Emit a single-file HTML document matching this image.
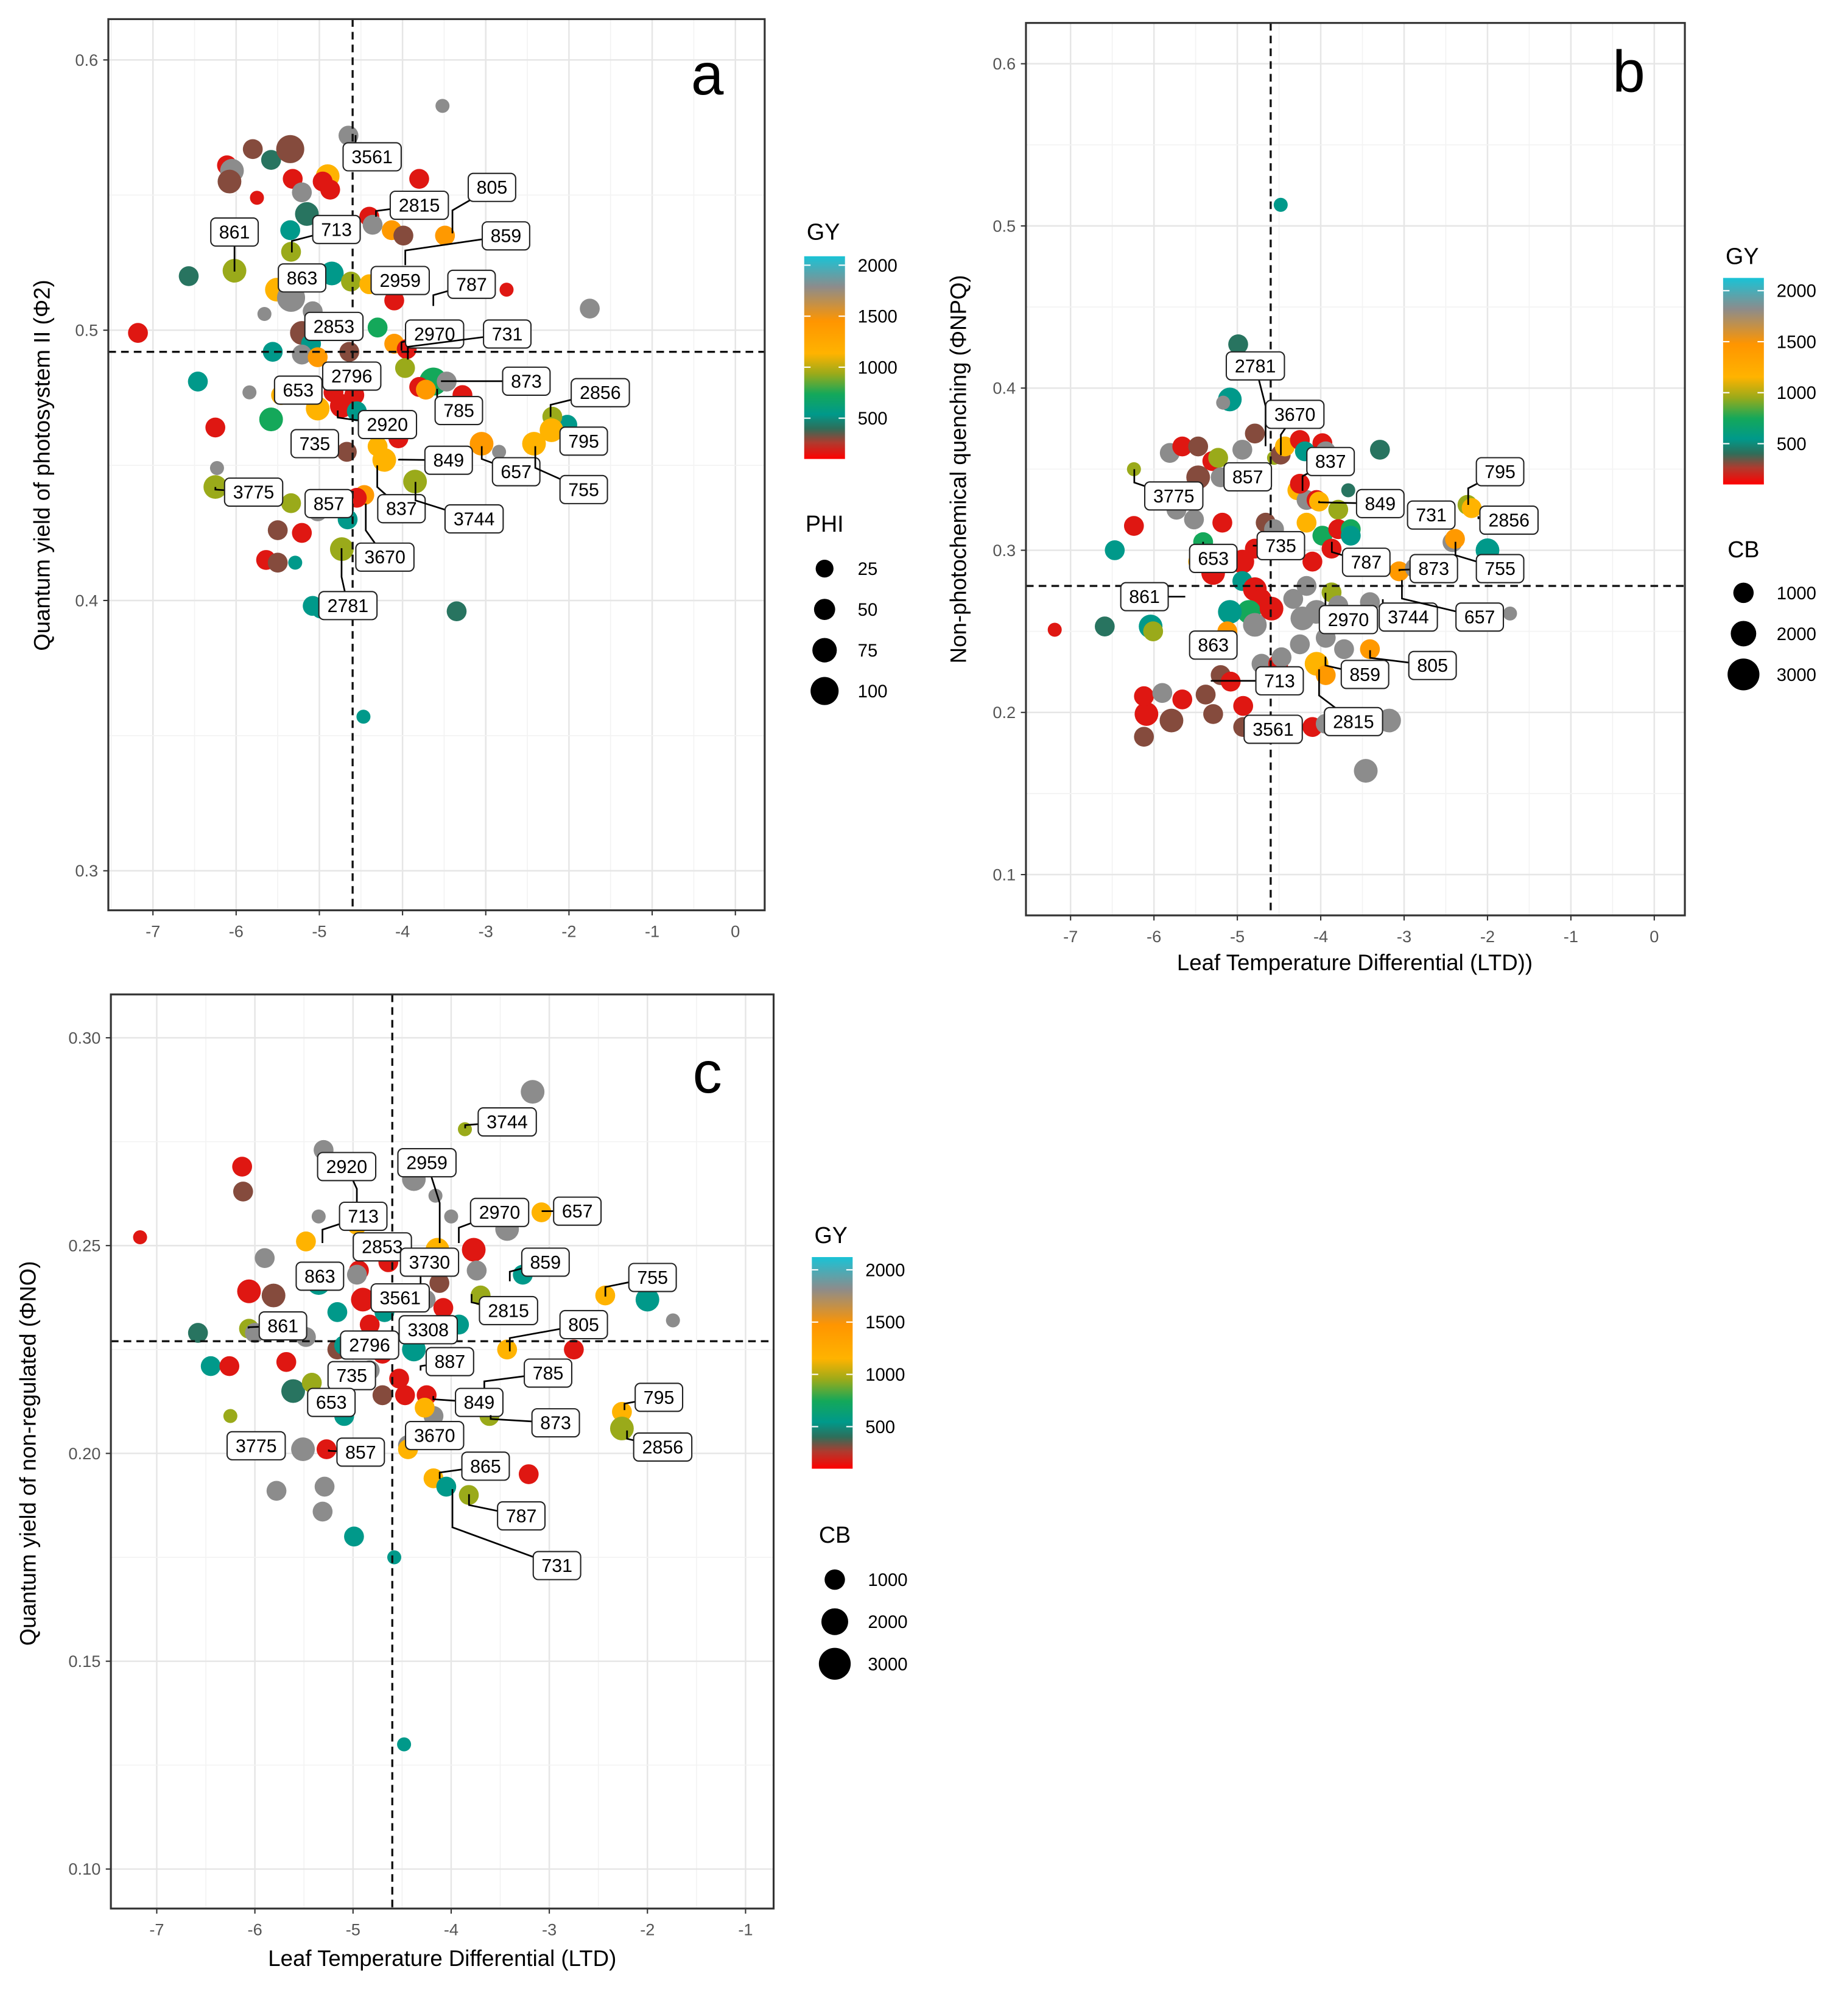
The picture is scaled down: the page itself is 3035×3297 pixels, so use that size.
<!DOCTYPE html>
<html><head><meta charset="utf-8"><style>
html,body{margin:0;padding:0;background:#fff}
svg{display:block}
text{font-family:"Liberation Sans",sans-serif}
</style></head><body>
<svg id="fig" width="3035" height="3297" viewBox="0 0 1450 1575" preserveAspectRatio="none" xmlns="http://www.w3.org/2000/svg">
<defs>
<linearGradient id="gyGrad" x1="0" y1="1" x2="0" y2="0">
<stop offset="0" stop-color="#ff0000"/><stop offset="0.08" stop-color="#b03a2e"/><stop offset="0.15" stop-color="#2e6e5a"/><stop offset="0.22" stop-color="#00998a"/><stop offset="0.32" stop-color="#14a85a"/><stop offset="0.42" stop-color="#9aaa1a"/><stop offset="0.52" stop-color="#ffb300"/><stop offset="0.68" stop-color="#ff9500"/><stop offset="0.85" stop-color="#8c8c8c"/><stop offset="1" stop-color="#19c3d6"/>
</linearGradient>
</defs>
</svg>
<script>
// ---- data (x = LTD, y = response, gy = grain yield, s = size class) ----
const R=100,B=300,D=420,T=550,G=750,O=950,Y=1150,Or=1450,Gr=1750;
const pointsA=[[-7.18,.499,R,2],[-6.57,.520,D,2],[-6.46,.481,T,2],[-6.25,.464,R,2],[-6.25,.442,O,3],[-6.02,.522,O,3],[-6.11,.561,R,2],[-6.05,.559,Gr,3],[-6.08,.555,B,3],[-5.75,.549,R,1],[-5.8,.567,B,2],[-5.58,.563,D,2],[-5.35,.567,B,4],[-5.32,.556,R,2],[-5.21,.551,Gr,2],[-5.15,.543,D,3],[-5.35,.537,T,2],[-5.34,.529,O,2],[-4.9,.557,Y,3],[-4.96,.555,R,2],[-4.87,.552,R,2],[-4.65,.572,Gr,2],[-3.52,.583,Gr,1],[-3.8,.556,R,2],[-4.4,.542,R,2],[-4.36,.539,Gr,2],[-4.13,.537,Or,2],[-3.99,.535,B,2],[-3.49,.535,Or,2],[-4.85,.521,T,3],[-4.62,.518,O,2],[-4.4,.517,Y,2],[-5.51,.515,Y,3],[-5.34,.512,Gr,4],[-5.66,.506,Gr,1],[-5.08,.507,Gr,2],[-5.21,.499,B,3],[-5.1,.495,T,2],[-5.21,.491,Gr,2],[-5.56,.492,T,2],[-5.02,.490,Or,2],[-4.64,.492,B,2],[-4.1,.495,Or,2],[-3.95,.493,R,2],[-3.97,.486,O,2],[-3.63,.481,G,4],[-3.47,.481,Gr,2],[-3.28,.476,R,2],[-3.8,.479,R,2],[-3.72,.478,Or,2],[-4.3,.501,G,2],[-4.1,.511,R,2],[-2.75,.515,R,1],[-1.75,.508,Gr,2],[-2.02,.465,T,2],[-2.2,.468,O,2],[-2.21,.463,Y,3],[-2.42,.458,Y,3],[-3.05,.458,Or,3],[-2.84,.455,Gr,1],[-4.3,.457,Y,2],[-4.22,.452,Y,3],[-4.05,.460,R,2],[-3.85,.444,O,3],[-5.84,.477,Gr,1],[-6.23,.449,Gr,1],[-5.58,.467,G,3],[-5.02,.471,Y,3],[-4.83,.477,R,2],[-4.73,.472,R,3],[-4.58,.476,R,2],[-4.55,.470,T,2],[-4.67,.455,B,2],[-5.46,.476,Y,2],[-5.34,.436,O,2],[-5.02,.433,Gr,2],[-4.66,.430,T,2],[-4.46,.439,Or,2],[-4.55,.438,R,2],[-5.5,.426,B,2],[-5.21,.425,R,2],[-5.64,.415,R,2],[-5.5,.414,B,2],[-5.29,.414,T,1],[-4.73,.419,O,3],[-5.08,.398,T,2],[-4.98,.397,T,2],[-3.35,.396,D,2],[-4.47,.357,T,1]];
const pointsB=[[-7.19,.251,R,1],[-6.59,.253,D,2],[-6.47,.300,T,2],[-6.24,.315,R,2],[-6.24,.350,O,1],[-6.04,.253,T,3],[-6.01,.250,O,2],[-6.12,.185,B,2],[-6.09,.199,R,3],[-6.12,.210,R,2],[-5.9,.212,Gr,2],[-5.79,.195,B,3],[-5.66,.208,R,2],[-5.81,.360,Gr,2],[-5.66,.364,R,2],[-5.47,.364,B,2],[-5.73,.325,Gr,2],[-5.52,.319,Gr,2],[-5.47,.345,B,3],[-5.3,.355,R,2],[-5.23,.357,O,2],[-5.2,.345,Gr,2],[-5.41,.305,G,2],[-5.47,.293,Y,2],[-5.29,.286,R,3],[-5.18,.317,R,2],[-5.09,.393,T,3],[-4.99,.427,D,2],[-5.17,.391,Gr,1],[-4.94,.362,Gr,2],[-5.24,.239,Gr,2],[-5.2,.223,B,2],[-4.94,.293,R,3],[-4.94,.281,T,2],[-4.79,.301,R,2],[-4.79,.276,R,3],[-4.71,.270,R,2],[-4.86,.262,G,3],[-4.79,.254,Gr,3],[-5.09,.262,T,3],[-5.12,.250,Or,2],[-5.38,.211,B,2],[-5.29,.199,B,2],[-5.08,.219,R,2],[-4.93,.204,R,2],[-4.93,.191,B,2],[-4.71,.230,Gr,2],[-4.51,.230,R,2],[-4.47,.234,Gr,2],[-4.59,.264,R,3],[-4.66,.317,B,2],[-4.56,.313,Gr,2],[-4.48,.513,T,1],[-4.56,.357,O,1],[-4.48,.359,B,2],[-4.43,.364,Y,2],[-4.79,.372,B,2],[-4.25,.368,R,2],[-3.98,.366,R,2],[-4.19,.361,T,2],[-3.94,.361,Gr,2],[-4.28,.337,Y,2],[-4.17,.331,Gr,2],[-4.05,.331,R,2],[-3.67,.337,D,1],[-4.02,.330,Y,2],[-3.79,.325,O,2],[-4.17,.317,Y,2],[-3.98,.309,G,2],[-3.79,.313,R,2],[-3.64,.313,G,2],[-3.87,.301,R,2],[-4.1,.293,R,2],[-3.64,.309,T,2],[-4.17,.278,Gr,2],[-3.87,.274,O,2],[-4.05,.262,Gr,3],[-4.33,.270,Gr,2],[-4.22,.258,Gr,3],[-3.79,.266,Gr,2],[-4.25,.242,Gr,2],[-3.94,.246,Gr,2],[-4.05,.230,Y,3],[-3.94,.223,Or,2],[-3.72,.239,Gr,2],[-3.41,.239,Or,2],[-4.1,.191,R,2],[-3.94,.193,Gr,2],[-3.18,.195,Gr,3],[-3.46,.164,Gr,3],[-3.29,.362,D,2],[-3.06,.287,Or,2],[-2.87,.289,Gr,2],[-2.42,.305,Gr,2],[-2.39,.307,Or,2],[-2.24,.328,O,2],[-2.19,.326,Y,2],[-2.0,.300,T,3],[-1.73,.261,Gr,1],[-4.25,.341,R,2],[-4.33,.305,T,2],[-3.41,.268,Gr,2]];
const pointsC=[[-7.17,.252,R,1],[-6.58,.229,D,2],[-6.45,.221,T,2],[-6.26,.221,R,2],[-6.25,.209,O,1],[-6.13,.269,R,2],[-6.12,.263,B,2],[-6.06,.239,R,3],[-6.06,.230,O,2],[-6.0,.229,Gr,2],[-5.9,.247,Gr,2],[-5.81,.238,B,3],[-5.78,.191,Gr,2],[-5.68,.222,R,2],[-5.61,.215,D,3],[-5.51,.201,Gr,3],[-5.48,.228,Gr,2],[-5.42,.217,O,2],[-5.48,.251,Y,2],[-5.35,.257,Gr,1],[-5.29,.192,Gr,2],[-5.31,.186,Gr,2],[-5.27,.201,R,2],[-5.35,.241,T,3],[-5.3,.273,Gr,2],[-5.16,.234,T,2],[-5.16,.225,B,2],[-5.09,.226,T,2],[-5.09,.209,T,2],[-4.99,.180,T,2],[-5.03,.258,R,2],[-4.96,.255,Y,2],[-4.94,.244,R,2],[-4.9,.237,R,3],[-4.83,.231,R,2],[-4.83,.220,Gr,2],[-4.96,.243,Gr,2],[-4.7,.224,R,2],[-4.7,.214,B,2],[-4.68,.234,T,2],[-4.64,.246,R,2],[-4.58,.175,T,1],[-4.48,.130,T,1],[-4.53,.218,R,2],[-4.47,.214,R,2],[-4.44,.202,Gr,2],[-4.44,.201,Y,2],[-4.38,.225,T,3],[-4.38,.266,Gr,3],[-4.29,.270,B,2],[-4.26,.237,Gr,2],[-4.25,.214,R,2],[-4.18,.209,Gr,2],[-4.27,.211,Y,2],[-4.18,.194,Y,2],[-4.14,.249,Y,3],[-4.0,.257,Gr,1],[-3.86,.278,O,1],[-4.12,.241,B,2],[-4.08,.235,R,2],[-3.92,.231,T,2],[-3.77,.249,R,3],[-3.74,.244,Gr,2],[-3.7,.238,O,2],[-3.61,.209,O,2],[-4.05,.192,T,2],[-3.82,.190,O,2],[-3.43,.254,Gr,3],[-3.43,.225,Y,2],[-3.27,.243,T,2],[-3.17,.287,Gr,3],[-3.21,.195,R,2],[-3.08,.258,Y,2],[-2.75,.225,R,2],[-2.43,.238,Y,2],[-2.26,.210,Y,2],[-2.26,.206,O,3],[-2.0,.237,T,3],[-1.74,.232,Gr,1],[-4.16,.262,Gr,1]];
// label annotations: [text, labelX, labelY, anchorX, anchorY] (page layout units)
const labelsA=[["3561",292,123,279,106],["2815",329,161,295,170],["805",386,147,355,183],["859",397,185,318,208],["861",184,182,184,213],["713",264,180,229,198],["863",237,218,237,218],["2959",314,220,300,222],["787",370,223,340,240],["2853",262,256,250,257],["2970",341,262,315,275],["731",398,262,320,282],["2796",276,295,278,290],["873",413,299,346,299],["653",234,306,250,305],["2920",304,333,265,322],["785",360,322,343,305],["2856",471,308,432,327],["735",247,348,247,348],["849",352,361,313,360],["795",458,346,446,340],["657",405,370,378,350],["755",458,384,420,350],["3775",199,386,169,382],["857",258,395,258,395],["837",315,399,296,365],["3744",372,407,326,378],["3670",302,437,287,395],["2781",273,475,268,430]];
const labelsB=[["2781",985,287,993,350],["3670",1016,325,1005,357],["837",1044,362,1022,385],["857",979,374,979,374],["3775",921,389,890,368],["849",1083,395,1035,393],["731",1123,404,1110,400],["795",1177,370,1152,396],["2856",1184,408,1160,405],["735",1005,428,983,428],["653",952,438,944,425],["787",1072,441,1045,425],["873",1125,446,1098,448],["755",1177,446,1142,425],["861",898,468,930,468],["2970",1058,486,1040,465],["3744",1105,484,1085,470],["657",1161,484,1100,455],["863",952,506,952,506],["805",1124,522,1075,510],["859",1071,529,1040,515],["713",1004,534,950,534],["2815",1062,566,1035,525],["3561",999,572,999,560]];
const labelsC=[["2920",272,915,280,950],["2959",335,912,345,975],["3744",398,880,365,885],["2970",392,951,360,975],["657",453,950,425,950],["713",285,954,253,975],["2853",300,978,300,990],["3730",337,990,330,1010],["859",428,990,400,1005],["863",251,1001,251,1001],["755",512,1002,475,1017],["3561",314,1018,300,1018],["2815",399,1028,370,1015],["861",222,1040,195,1042],["3308",336,1043,320,1050],["805",458,1039,400,1060],["2796",290,1055,290,1055],["887",353,1068,330,1075],["735",276,1079,276,1079],["785",430,1077,380,1090],["653",260,1100,260,1100],["849",376,1100,340,1095],["873",436,1116,385,1110],["795",517,1096,490,1106],["3670",341,1126,322,1137],["2856",520,1135,492,1122],["3775",201,1134,201,1134],["857",283,1139,258,1137],["865",381,1150,345,1160],["787",409,1189,368,1172],["731",437,1228,355,1168]];
const xTicksA=[-7,-6,-5,-4,-3,-2,-1,0], yTicksA=[0.3,0.4,0.5,0.6];
const xTicksB=[-7,-6,-5,-4,-3,-2,-1,0], yTicksB=[0.1,0.2,0.3,0.4,0.5,0.6];
const xTicksC=[-7,-6,-5,-4,-3,-2,-1], yTicksC=[0.10,0.15,0.20,0.25,0.30];
const colorLegendTicks=[500,1000,1500,2000];
const phiLegend=[25,50,75,100], cbLegend=[1000,2000,3000];

const NS="http://www.w3.org/2000/svg";
const svg=document.getElementById('fig');
function mk(tag,attrs,parent){const e=document.createElementNS(NS,tag);for(const k in attrs)e.setAttribute(k,attrs[k]);(parent||svg).appendChild(e);return e;}
const stops=[[0,[255,0,0]],[250,[176,58,46]],[400,[46,110,90]],[550,[0,153,138]],[750,[20,168,90]],[950,[154,170,26]],[1150,[255,179,0]],[1500,[255,149,0]],[1750,[140,140,140]],[1850,[138,138,138]],[2100,[25,195,214]]];
function gyColor(v){for(let i=1;i<stops.length;i++){if(v<=stops[i][0]){const a=stops[i-1],b=stops[i],t=(v-a[0])/(b[0]-a[0]);const c=a[1].map((x,j)=>Math.round(x+(b[1][j]-x)*t));return `rgb(${c})`;}}return 'rgb(25,195,214)';}
const rad={1:5.5,2:7.8,3:9.3,4:11};

function panel(id,box,xa,ya,xt,yt,pts,labs,vx,vy,letter,fmtY){
  const g=mk('g',{});
  
  
  const X=v=>xa[1]+(v-xa[0])*(xa[3]-xa[1])/(xa[2]-xa[0]);
  const Yf=v=>ya[1]+(v-ya[0])*(ya[3]-ya[1])/(ya[2]-ya[0]);
  const [L,Tp,Rt,Bt]=box;
  const bg=mk('rect',{x:L,y:Tp,width:Rt-L,height:Bt-Tp,fill:'#fff'},g);
  
  
  const dx=xt[1]-xt[0], dy=yt[1]-yt[0];
  for(let v=xt[0]-dx*2;v<=xt[xt.length-1]+dx*2;v+=dx/2){const p=X(v);if(p<=L||p>=Rt)continue;const major=Math.abs((v-xt[0])/dx-Math.round((v-xt[0])/dx))<1e-6;mk('line',{x1:p,x2:p,y1:Tp,y2:Bt,stroke:major?'#e6e6e6':'#f3f3f3','stroke-width':major?1.2:0.8},g);}
  for(let v=yt[0]-dy*2;v<=yt[yt.length-1]+dy*2;v+=dy/2){const p=Yf(v);if(p<=Tp||p>=Bt)continue;const major=Math.abs((v-yt[0])/dy-Math.round((v-yt[0])/dy))<1e-6;mk('line',{y1:p,y2:p,x1:L,x2:Rt,stroke:major?'#e6e6e6':'#f3f3f3','stroke-width':major?1.2:0.8},g);}
  xt.forEach(v=>{const t=mk('text',{x:X(v),y:Bt+21,'font-size':13,fill:'#555','text-anchor':'middle'},g);t.textContent=String(v);mk('line',{x1:X(v),x2:X(v),y1:Bt,y2:Bt+4,stroke:'#333'},g);});
  yt.forEach(v=>{const t=mk('text',{x:L-8,y:Yf(v)+4.5,'font-size':13,fill:'#555','text-anchor':'end'},g);t.textContent=fmtY(v);mk('line',{x1:L-4,x2:L,y1:Yf(v),y2:Yf(v),stroke:'#333'},g);});
  pts.forEach(p=>{const c=mk('circle',{cx:X(p[0]),cy:Yf(p[1]),r:rad[p[3]],fill:gyColor(p[2])},g);});
  const vl=mk('line',{x1:X(vx),x2:X(vx),y1:Tp,y2:Bt,stroke:'#111','stroke-width':1.6,'stroke-dasharray':'6,4'},g);
  
  const hl=mk('line',{x1:L,x2:Rt,y1:Yf(vy),y2:Yf(vy),stroke:'#111','stroke-width':1.6,'stroke-dasharray':'6,4'},g);
  
  labs.forEach(l=>{
    const w=l[0].length*8.4+12,h=22;
    if(Math.hypot(l[1]-l[3],l[2]-l[4])>12){mk('polyline',{points:`${l[3]},${l[4]} ${l[3]},${(l[2]+l[4])/2} ${l[1]},${l[2]}`,fill:'none',stroke:'#000','stroke-width':1.3},g);}
    const r=mk('rect',{x:l[1]-w/2,y:l[2]-h/2,width:w,height:h,rx:4,fill:'#fff',stroke:'#222','stroke-width':1},g);
    
    const t=mk('text',{x:l[1],y:l[2]+5,'font-size':14.5,'text-anchor':'middle',fill:'#000'},g);t.textContent=l[0];
    
  });
  const fr=mk('rect',{x:L,y:Tp,width:Rt-L,height:Bt-Tp,fill:'none',stroke:'#333','stroke-width':1.5},g);
  
  const lt=mk('text',{x:letter[0],y:letter[1],'font-size':46,'text-anchor':'middle',fill:'#000'},g);lt.textContent=id;
  
}
const f1=v=>v.toFixed(1), f2=v=>v.toFixed(2);
panel('a',[85,15,600,714],[-7,120,0,577],[0.6,47,0.3,683],xTicksA,yTicksA,pointsA,labelsA,-4.6,0.492,[555,74],f1);
panel('b',[805,18,1322,718],[-7,840,0,1298],[0.6,50,0.1,686],xTicksB,yTicksB,pointsB,labelsB,-4.6,0.278,[1278,72],f1);
panel('c',[87,780,607,1497],[-7,123,-1,585],[0.30,814,0.10,1466],xTicksC,yTicksC,pointsC,labelsC,-4.6,0.227,[555,857],f2);

function txt(s,x,y,size,anchor,name,rot){const t=mk('text',{x:x,y:y,'font-size':size,'text-anchor':anchor||'start',fill:'#000'});if(rot)t.setAttribute('transform',`rotate(-90 ${x} ${y})`);t.textContent=s;return t;}
txt('Quantum yield of photosystem II (Φ2)',39,365,17.5,'middle','y-axis-title-a',true);
txt('Non-photochemical quenching (ΦNPQ)',758,368,17.5,'middle','y-axis-title-b',true);
txt('Leaf Temperature Differential (LTD))',1063,761,17.5,'middle','x-axis-title-b');
txt('Quantum yield of non-regulated (ΦNO)',28,1140,17.5,'middle','y-axis-title-c',true);
txt('Leaf Temperature Differential (LTD)',347,1542,17.5,'middle','x-axis-title-c');

function colorLegend(x,top,bot,titleY,v2000,per){
  txt('GY',x+15,titleY,18,'middle','gy-legend-title');
  const r=mk('rect',{x:x,y:top,width:32,height:bot-top,fill:'url(#gyGrad)'});
  
  colorLegendTicks.forEach(v=>{const y=v2000+(2000-v)*per;mk('line',{x1:x,x2:x+5,y1:y,y2:y,stroke:'#fff'});mk('line',{x1:x+27,x2:x+32,y1:y,y2:y,stroke:'#fff'});txt(String(v),x+42,y+5,14,'start','gy-legend-label');});
}
function sizeLegend(title,vals,x,titleY,y0,step,rs){
  txt(title,x,titleY,18,'middle',title.toLowerCase()+'-legend-title');
  vals.forEach((v,i)=>{const c=mk('circle',{cx:x,cy:y0+i*step,r:rs[i],fill:'#000'});txt(String(v),x+26,y0+i*step+5,14,'start','size-legend-label');});
}
colorLegend(631,201,360,188,208,0.08);
sizeLegend('PHI',phiLegend,647,417,446,32,[7,8.3,9.6,11]);
colorLegend(1352,218,380,207,228,0.08);
sizeLegend('CB',cbLegend,1368,437,465,32,[8,10,12.5]);
colorLegend(637,986,1152,975,996,0.082);
sizeLegend('CB',cbLegend,655,1210,1239,33,[8,10.5,12.5]);
</script>
</body></html>
